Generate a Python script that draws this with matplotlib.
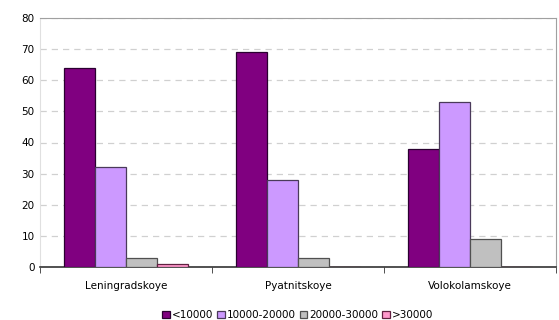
import matplotlib.pyplot as plt
import numpy as np

categories = ['Leningradskoye', 'Pyatnitskoye', 'Volokolamskoye']
series_names = ['<10000', '10000-20000', '20000-30000', '>30000']
values_lt10k = [64, 69, 38]
values_10_20k = [32, 28, 53]
values_20_30k = [3, 3, 9]
values_gt30k = [1, 0, 0]

colors = ['#800080', '#CC99FF', '#C0C0C0', '#FF99CC']
edges = ['#2a0030', '#4a3a5a', '#505050', '#602040']

fig = plt.figure(figsize=(5.59, 3.2), dpi=100)
ax = fig.add_axes([40 / 559, 1 - 267 / 320, 516 / 559, 249 / 320])

x = np.arange(len(categories))
width = 0.18
series = [values_lt10k, values_10_20k, values_20_30k, values_gt30k]
for i, vals in enumerate(series):
    ax.bar(x + (i - 1.5) * width, vals, width, color=colors[i],
           edgecolor=edges[i], linewidth=0.9, label=series_names[i], zorder=3)

ax.set_xlim(-0.5, 2.5)
ax.set_ylim(0, 80)
ax.set_yticks(range(0, 81, 10))
ax.yaxis.grid(True, color='#d0d0d0', linestyle=(0, (5, 4)), linewidth=0.9, zorder=0)

ax.set_xticks(x)
ax.set_xticklabels(categories)
ax.set_xticks([-0.5, 0.5, 1.5, 2.5], minor=True)
ax.tick_params(axis='x', which='major', length=0, pad=10, labelsize=7.5)
ax.tick_params(axis='x', which='minor', length=4, direction='out', color='#333333')
ax.tick_params(axis='y', length=0, pad=4, labelsize=7.5)

for side in ['top', 'right']:
    ax.spines[side].set_color('#a0a0a0')
ax.spines['left'].set_color('#e0e0e0')
ax.spines['bottom'].set_color('#333333')
ax.spines['bottom'].set_linewidth(1.2)

fig.legend(loc='center', bbox_to_anchor=(298 / 559, 1 - 315 / 320), ncol=4, frameon=False,
           fontsize=7.5, handlelength=0.7, handleheight=0.7, handletextpad=0.25,
           columnspacing=0.35, borderpad=0)

fig.savefig('out.png', dpi=100)
